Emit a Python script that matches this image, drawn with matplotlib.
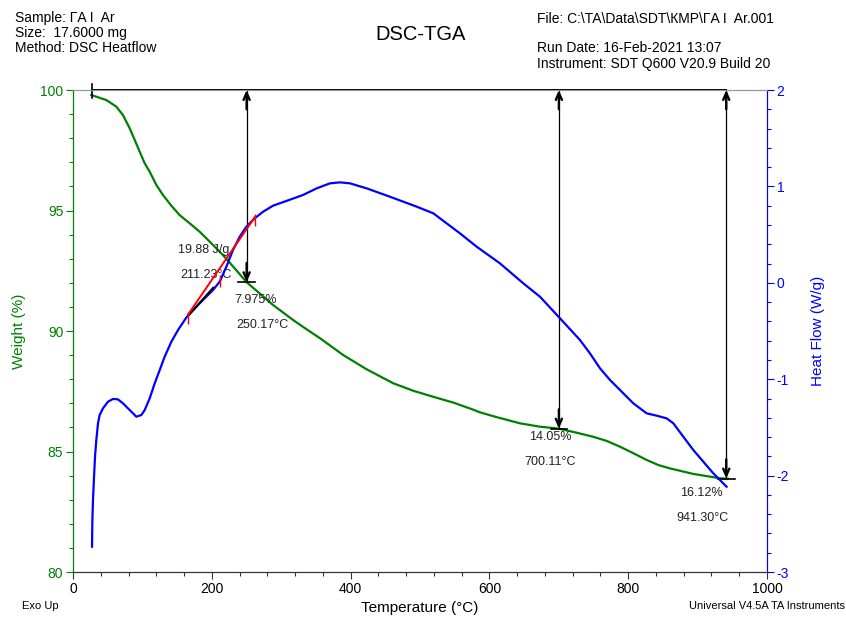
import matplotlib
matplotlib.use("Agg")
import matplotlib.pyplot as plt
from matplotlib.ticker import MultipleLocator

plt.rcParams['font.family'] = ['Liberation Sans', 'DejaVu Sans']
plt.rcParams['axes.unicode_minus'] = False

GREEN, BLUE = "#008000", "#0000FF"

# weight curve (TGA)
temp_w = [26.4, 48.0, 62.4, 72.0, 81.7, 88.9, 96.1, 103.3, 110.5, 120.1, 129.7, 141.7,
          153.7, 168.1, 182.5, 199.3, 216.1, 233.0, 250.17, 269.0, 288.2, 317.0,
          330.0, 355.9, 389.5, 423.2, 461.6, 490.4, 519.2, 548.0, 574.5, 586.0,
          610.0, 644.1, 672.9, 700.11, 725.8, 749.8, 769.0, 788.2, 807.4, 826.6,
          843.4, 860.2, 893.8, 932.3, 944.0]
weight = [99.79, 99.585, 99.31, 98.96, 98.41, 97.93, 97.44, 96.96, 96.61, 96.06, 95.64,
          95.20, 94.81, 94.47, 94.12, 93.64, 93.15, 92.60, 92.025, 91.56, 91.08, 90.46,
          90.2, 89.70, 89.00, 88.41, 87.83, 87.52, 87.27, 87.03, 86.76, 86.63,
          86.43, 86.17, 86.03, 85.95, 85.78, 85.61, 85.44, 85.20, 84.93, 84.65,
          84.44, 84.30, 84.07, 83.89, 83.87]

# heat flow curve (DSC)
temp_h = [27.4, 27.9, 28.8, 30.3, 31.7, 33.6, 36.0, 38.4, 43.2, 50.4, 57.6, 64.8,
          72.0, 81.7, 91.3, 98.5, 103.3, 110.5, 117.7, 124.9, 132.1, 141.7, 151.3,
          163.3, 182.5, 201.7, 211.3, 221.0, 230.5, 240.2, 249.8, 261.8, 273.8,
          288.2, 307.4, 331.4, 351.1, 370.3, 384.7, 399.1, 423.1, 456.7, 495.2,
          519.2, 538.4, 557.6, 581.6, 615.2, 648.8, 672.9, 701.7, 730.5, 744.9,
          759.4, 773.8, 788.2, 807.4, 826.6, 841.0, 855.4, 865.0, 879.4, 893.8,
          922.6, 941.8]
heatflow = [-2.737, -2.461, -2.253, -2.011, -1.804, -1.631, -1.458, -1.371, -1.302,
            -1.233, -1.205, -1.209, -1.25, -1.32, -1.389, -1.371, -1.32, -1.198,
            -1.043, -0.905, -0.766, -0.611, -0.49, -0.36, -0.213, -0.075, 0.011,
            0.167, 0.34, 0.478, 0.582, 0.669, 0.737, 0.80, 0.849, 0.911, 0.98,
            1.032, 1.042, 1.032, 0.98, 0.893, 0.79, 0.721, 0.617, 0.513, 0.375,
            0.202, -0.005, -0.144, -0.368, -0.593, -0.732, -0.887, -1.008, -1.112,
            -1.25, -1.354, -1.378, -1.406, -1.457, -1.596, -1.734, -1.976, -2.115]

# peak integration: baseline (red), tangent (black), peak marker
base_t, base_h = [165.7, 261.8], [-0.33, 0.68]
tang_t, tang_h = [166, 202], [-0.34, -0.05]
peak_t, peak_h = 211.23, 0.02

# weight-change readouts
step_t = [250.17, 700.11, 941.30]
step_loss = [7.975, 14.05, 16.12]
start_t = 27

fig = plt.figure(figsize=(8.46, 6.17), dpi=100)
ax = fig.add_axes([0.0863, 0.0729, 0.8203, 0.7812])
ax2 = ax.twinx()

ax.plot(temp_w, weight, color=GREEN, lw=1.6, zorder=2)
ax2.plot(temp_h, heatflow, color=BLUE, lw=1.6, zorder=3)
ax2.plot(tang_t, tang_h, color="k", lw=1.4, zorder=4)
ax2.plot(base_t, base_h, color="red", lw=1.4, zorder=5)
ax2.plot(base_t + [peak_t], [base_h[0] - 0.03, base_h[1] - 0.03, peak_h],
         ls="none", marker="|", ms=8, mew=1, color="red", zorder=6)

# top reference line + start marker
ax.plot([start_t, step_t[-1]], [100, 100], color="k", lw=1.4, zorder=4, clip_on=False)
ax.plot([start_t, start_t], [99.65, 100.25], color="k", lw=1.2, clip_on=False, zorder=4)

for t, loss in zip(step_t, step_loss):
    w = 100 - loss
    ax.plot([t, t], [w, 100], color="k", lw=0.9, zorder=4, clip_on=False)
    ax.annotate("", xy=(t, 100), xytext=(t, 99.2), annotation_clip=False,
                arrowprops=dict(arrowstyle="->,head_length=0.5,head_width=0.22",
                                lw=1.7, color="k", shrinkA=0, shrinkB=0))
    ax.annotate("", xy=(t, w), xytext=(t, w + 0.8),
                arrowprops=dict(arrowstyle="->,head_length=0.5,head_width=0.22",
                                lw=1.7, color="k", shrinkA=0, shrinkB=0))
    ax.plot([t - 12, t + 12], [w, w], color="k", lw=1.2, zorder=4)

txt = dict(fontsize=9, va="center", ha="left", color="#222222")
ax.text(151, 93.36, "19.88 J/g", **txt)
ax.text(154, 92.32, "211.23°C", **txt)
ax.text(232, 91.29, "7.975%", **txt)
ax.text(235, 90.25, "250.17°C", **txt)
ax.text(657, 85.6, "14.05%", **txt)
ax.text(651, 84.56, "700.11°C", **txt)
ax.text(875, 83.28, "16.12%", **txt)
ax.text(870, 82.24, "941.30°C", **txt)

ax.set_xlim(0, 1000)
ax.set_ylim(80, 100)
ax2.set_ylim(-3, 2)
ax.xaxis.set_major_locator(MultipleLocator(200))
ax.xaxis.set_minor_locator(MultipleLocator(40))
ax.yaxis.set_major_locator(MultipleLocator(5))
ax.yaxis.set_minor_locator(MultipleLocator(1))
ax2.yaxis.set_major_locator(MultipleLocator(1))
ax2.yaxis.set_minor_locator(MultipleLocator(0.2))

ax.tick_params(axis="x", which="major", length=5, width=0.8, labelsize=10, pad=2,
               color="#333333")
ax.tick_params(axis="x", which="minor", length=3, width=0.8, color="#333333")
ax.tick_params(axis="y", which="major", length=5, width=0.8, labelsize=10, pad=2,
               colors=GREEN)
ax.tick_params(axis="y", which="minor", length=3, width=0.8, color=GREEN)
ax2.tick_params(axis="y", which="major", length=5, width=0.8, labelsize=10, pad=2,
                colors=BLUE)
ax2.tick_params(axis="y", which="minor", length=3, width=0.8, color=BLUE)

for a in (ax, ax2):
    a.spines["top"].set_color("#999999")
    a.spines["bottom"].set_color("#333333")
    a.spines["left"].set_color(GREEN)
    a.spines["right"].set_color(BLUE)

ax.set_xlabel("Temperature (°C)", fontsize=11, labelpad=4)
ax.set_ylabel("Weight (%)", fontsize=11, color=GREEN, labelpad=10)
ax2.set_ylabel("Heat Flow (W/g)", fontsize=11, color=BLUE, labelpad=16)

# header
hdr = dict(fontsize=10, ha="left", va="center")
fig.text(15 / 846, 1 - 18 / 617, "Sample: ΓA I  Ar", **hdr)
fig.text(15 / 846, 1 - 33 / 617, "Size:  17.6000 mg", **hdr)
fig.text(15 / 846, 1 - 48 / 617, "Method: DSC Heatflow", **hdr)
fig.text(537 / 846, 1 - 19 / 617, "File: C:\\TA\\Data\\SDT\\КМР\\ΓA I  Ar.001", **hdr)
fig.text(537 / 846, 1 - 48 / 617, "Run Date: 16-Feb-2021 13:07", **hdr)
fig.text(537 / 846, 1 - 64 / 617, "Instrument: SDT Q600 V20.9 Build 20", **hdr)
fig.text(421 / 846, 1 - 35 / 617, "DSC-TGA", fontsize=14.5, ha="center", va="center")
fig.text(22 / 846, 1 - 606 / 617, "Exo Up", fontsize=8, ha="left", va="center")
fig.text(845 / 846, 1 - 606 / 617, "Universal V4.5A TA Instruments", fontsize=8,
         ha="right", va="center")

fig.savefig("out.png", dpi=100)
